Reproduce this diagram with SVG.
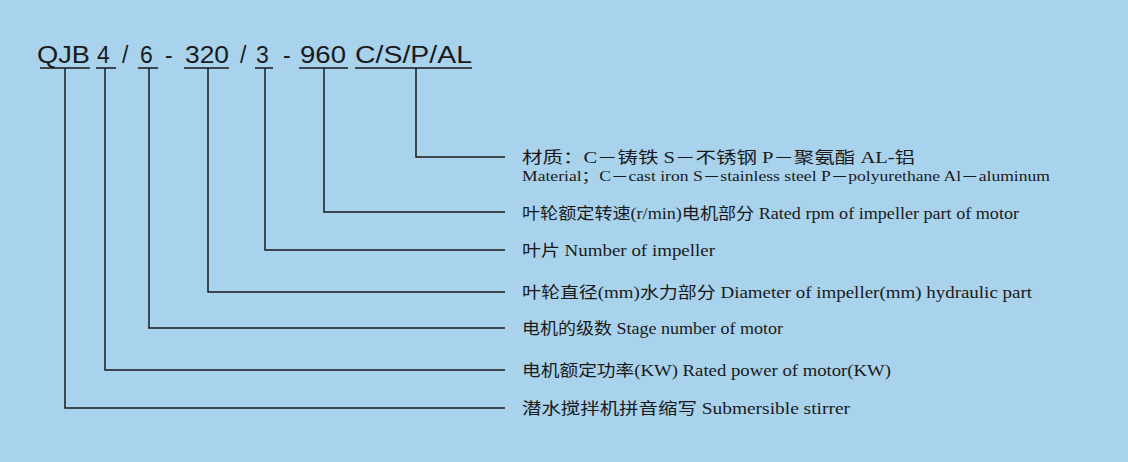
<svg xmlns="http://www.w3.org/2000/svg" width="1128" height="462" viewBox="0 0 1128 462">
<style>
.h{font-family:"Liberation Sans",Arial,sans-serif;font-size:23px;fill:#1a1a1a}
.t{font-family:"Liberation Serif","Noto Sans CJK SC",serif;font-size:16px;fill:#1a1a1a}
.s{font-family:"Liberation Serif","Noto Sans CJK SC",serif;font-size:14px;fill:#1a1a1a}
.l{stroke:#1a1a1a;stroke-width:1.5;fill:none}
</style>
<rect width="1128" height="462" fill="#a9d3ec"/>
<g id="code">
<text class="h" x="37" y="63" textLength="53" lengthAdjust="spacingAndGlyphs">QJB</text>
<text class="h" x="97" y="63">4</text>
<text class="h" x="122" y="63">/</text>
<text class="h" x="140" y="63">6</text>
<text class="h" x="165" y="63">-</text>
<text class="h" x="185" y="63" textLength="44" lengthAdjust="spacingAndGlyphs">320</text>
<text class="h" x="240" y="63">/</text>
<text class="h" x="256" y="63">3</text>
<text class="h" x="283" y="63">-</text>
<text class="h" x="300" y="63" textLength="46" lengthAdjust="spacingAndGlyphs">960</text>
<text class="h" x="355" y="63" textLength="117" lengthAdjust="spacingAndGlyphs">C/S/P/AL</text>
<path class="l" d="M40 68H90M96 68H116M138 68H158M184 68H229M255 68H273M299 68H348M355 68H472"/>
</g>
<g id="connectors" class="l">
<path d="M65 68V408H505"/>
<path d="M105 68V370H505"/>
<path d="M149 68V328H505"/>
<path d="M208 68V292H505"/>
<path d="M265 68V250H505"/>
<path d="M324 68V212H505"/>
<path d="M416 68V157H505"/>
</g>
<g id="labels">
<text class="t" x="522" y="163" textLength="393" lengthAdjust="spacingAndGlyphs">材质：C－铸铁 S－不锈钢 P－聚氨酯 AL-铝</text>
<text class="s" x="522" y="181" textLength="528" lengthAdjust="spacingAndGlyphs">Material；C－cast iron S－stainless steel P－polyurethane Al－aluminum</text>
<text class="t" x="522" y="219" textLength="497" lengthAdjust="spacingAndGlyphs">叶轮额定转速(r/min)电机部分 Rated rpm of impeller part of motor</text>
<text class="t" x="522" y="256" textLength="193" lengthAdjust="spacingAndGlyphs">叶片 Number of impeller</text>
<text class="t" x="522" y="298" textLength="510" lengthAdjust="spacingAndGlyphs">叶轮直径(mm)水力部分 Diameter of impeller(mm) hydraulic part</text>
<text class="t" x="522" y="334" textLength="261" lengthAdjust="spacingAndGlyphs">电机的级数 Stage number of motor</text>
<text class="t" x="522" y="376" textLength="369" lengthAdjust="spacingAndGlyphs">电机额定功率(KW) Rated power of motor(KW)</text>
<text class="t" x="522" y="414" textLength="328" lengthAdjust="spacingAndGlyphs">潜水搅拌机拼音缩写 Submersible stirrer</text>
</g>
</svg>
